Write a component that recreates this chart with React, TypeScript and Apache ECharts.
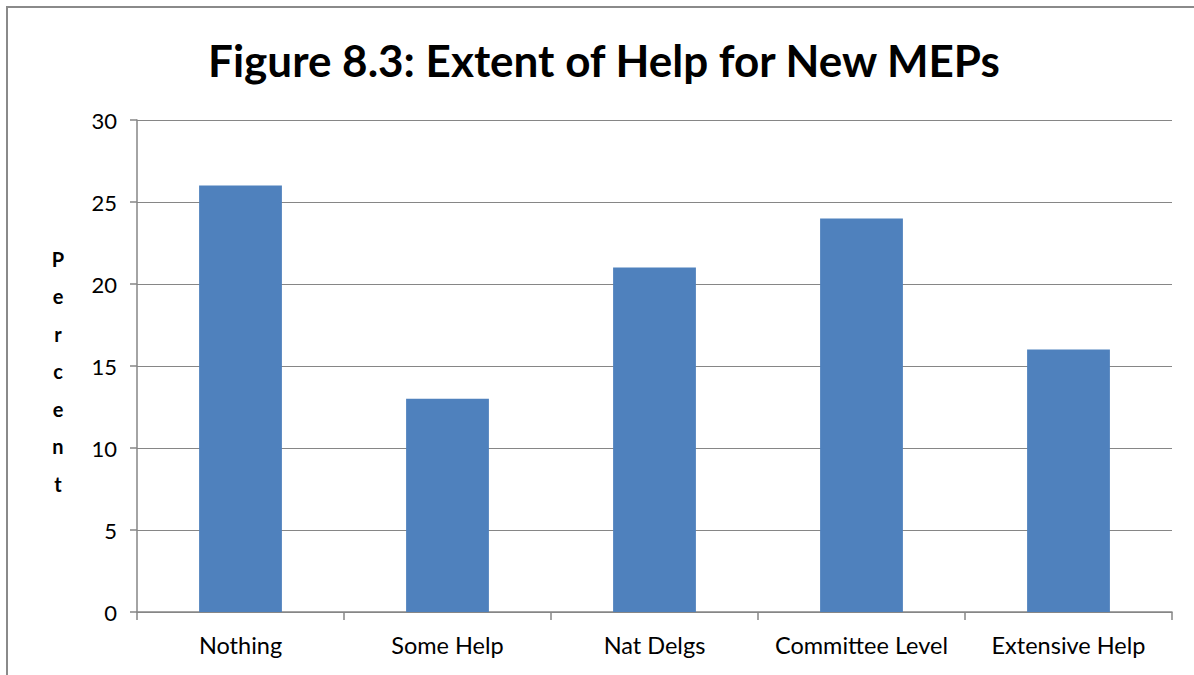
import React, { useEffect, useRef } from "react";
import * as echarts from "echarts";

const categories = ["Nothing", "Some Help", "Nat Delgs", "Committee Level", "Extensive Help"];
const values = [26, 13, 21, 24, 16];
const yTicks = { min: 0, max: 30, interval: 5 };
const titleText = "Figure 8.3: Extent of Help for New MEPs";
const yAxisTitle = "Percent";

export default function App() {
  const ref = useRef<HTMLDivElement>(null);
  useEffect(() => {
    const chart = echarts.init(ref.current!, null, { renderer: "svg" });
    const font = "Lato, 'Open Sans', sans-serif";
    chart.setOption({
      animation: false,
      backgroundColor: "#ffffff",
      title: {
        text: titleText,
        left: 599,
        textAlign: "center",
        top: 33,
        textStyle: { fontFamily: font, fontSize: 44, fontWeight: "bold", color: "#000" },
      },
      grid: { left: 137, right: 22, top: 120, bottom: 63 },
      xAxis: {
        type: "category",
        data: categories,
        axisLine: { lineStyle: { color: "#868686", width: 1.5 } },
        axisTick: { show: true, interval: 0, length: 8, lineStyle: { color: "#868686", width: 1.5 } },
        axisLabel: { interval: 0, hideOverlap: false, fontFamily: font, fontSize: 23.5, color: "#000", margin: 21 },
      },
      yAxis: {
        type: "value",
        min: yTicks.min,
        max: yTicks.max,
        interval: yTicks.interval,
        axisLine: { show: true, lineStyle: { color: "#868686", width: 1.5 } },
        axisTick: { show: true, length: 7, lineStyle: { color: "#868686", width: 1.5 } },
        axisLabel: { fontFamily: font, fontSize: 22, color: "#000", margin: 20 },
        splitLine: { lineStyle: { color: "#868686", width: 1.2 } },
      },
      graphic: [
        {
          type: "rect",
          shape: { x: 7, y: 7, width: 1300, height: 800 },
          style: { fill: "none", stroke: "#8a8a8a", lineWidth: 2 },
          silent: true,
        },
        {
          type: "text",
          x: 58,
          y: 371,
          style: {
            text: yAxisTitle.split("").join("\n"),
            fontFamily: font,
            fontSize: 20,
            fontWeight: "bold",
            fill: "#000",
            align: "center",
            verticalAlign: "middle",
            lineHeight: 37.5,
          },
        },
      ],
      series: [
        {
          type: "bar",
          data: values,
          barWidth: "40%",
          itemStyle: { color: "#4F81BD" },
        },
      ],
    });
    return () => chart.dispose();
  }, []);
  return (
    <div
      ref={ref}
      style={{ position: "fixed", left: 0, top: 0, width: 1194, height: 675 }}
    />
  );
}
